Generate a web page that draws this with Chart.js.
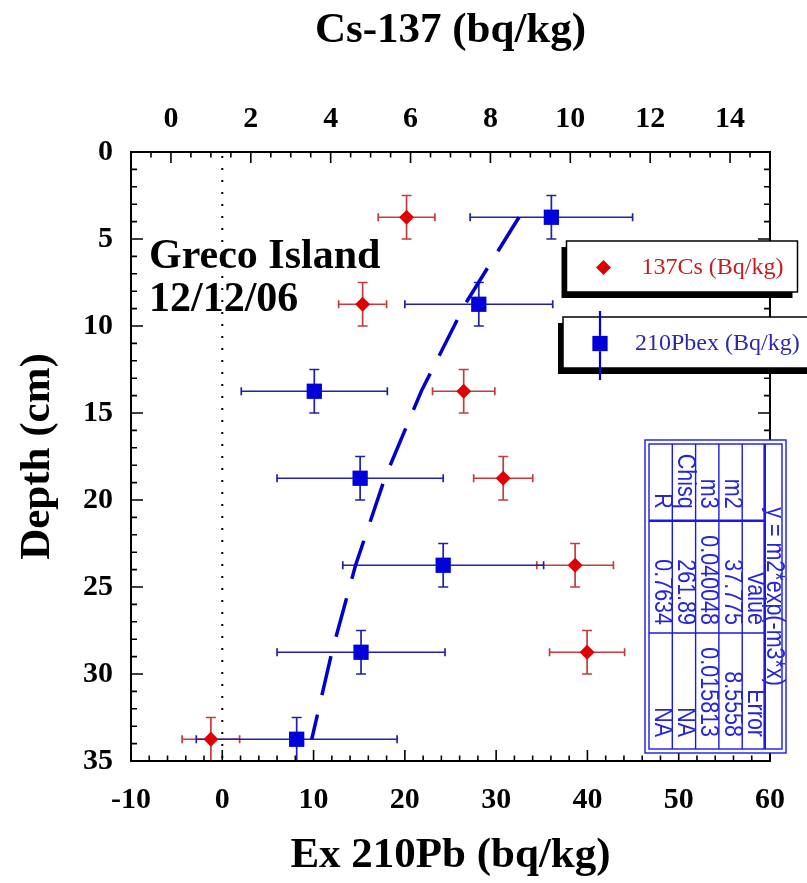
<!DOCTYPE html>
<html><head><meta charset="utf-8">
<script src="https://cdn.jsdelivr.net/npm/chart.js@4.4.1/dist/chart.umd.min.js"></script>
<style>html,body{margin:0;padding:0;background:#fff;}#wrap{width:807px;height:883px;}</style>
</head><body><div id="wrap"><canvas id="c" width="807" height="883"></canvas></div>
<script>
// ---- data ----
const depthCm   = [3.75, 8.75, 13.75, 18.75, 23.75, 28.75, 33.75];
const depthErr  = [1.25, 1.25, 1.25, 1.25, 1.25, 1.25, 1.25];
const cs137     = [5.9, 4.8, 7.33, 8.32, 10.12, 10.42, 1.0];
const cs137Err  = [0.71, 0.6, 0.78, 0.74, 0.96, 0.94, 0.72];
const pb210     = [36.05, 28.1, 10.08, 15.1, 24.2, 15.2, 8.15];
const pb210Err  = [8.9, 8.1, 8.0, 9.1, 11.0, 9.2, 11.0];
const fitDepth  = [3.75, 8.75, 13.75, 18.75, 23.75, 28.75, 33.75];
const fitPb     = [32.5, 26.6, 21.8, 17.8, 14.6, 12.0, 9.8];
const pbTicks    = [-10, 0, 10, 20, 30, 40, 50, 60];
const csTicks    = [0, 2, 4, 6, 8, 10, 12, 14];
const depthTicks = [0, 5, 10, 15, 20, 25, 30, 35];
const fitEquation = "y = m2*exp(-m3*x)";
const fitHeader = ["", "Value", "Error"];
const fitRows = [["m2", "37.775", "8.5558"], ["m3", "0.040048", "0.015813"], ["Chisq", "261.89", "NA"], ["R", "0.7634", "NA"]];
const siteLines = ["Greco Island", "12/12/06"];

const SERIF = "'Liberation Serif', 'Times New Roman', serif";
const SANS = "'Liberation Sans', Arial, sans-serif";

const errorBars = {
  id: 'errorBars',
  beforeDatasetsDraw(chart) {
    const ctx = chart.ctx, a = chart.chartArea, ys = chart.scales.y;
    const x0 = chart.scales.x.getPixelForValue(0);
    ctx.save();
    ctx.strokeStyle = '#000'; ctx.lineWidth = 2; ctx.setLineDash([2, 10]);
    ctx.beginPath(); ctx.moveTo(x0, a.top + 4); ctx.lineTo(x0, a.bottom); ctx.stroke();
    ctx.restore();
    chart.data.datasets.forEach(ds => {
      if (!ds.xErr) return;
      const xs = chart.scales[ds.xAxisID];
      ctx.save(); ctx.strokeStyle = ds.errColor; ctx.lineWidth = 1.7;
      ds.data.forEach((p, i) => {
        const px = xs.getPixelForValue(p.x), py = ys.getPixelForValue(p.y);
        const xl = xs.getPixelForValue(p.x - ds.xErr[i]), xr = xs.getPixelForValue(p.x + ds.xErr[i]);
        const yt = ys.getPixelForValue(p.y - ds.yErr[i]), yb = ys.getPixelForValue(p.y + ds.yErr[i]);
        ctx.beginPath();
        ctx.moveTo(xl, py); ctx.lineTo(xr, py);
        ctx.moveTo(xl, py - 4); ctx.lineTo(xl, py + 4);
        ctx.moveTo(xr, py - 4); ctx.lineTo(xr, py + 4);
        ctx.moveTo(px, yt); ctx.lineTo(px, yb);
        ctx.moveTo(px - 5, yt); ctx.lineTo(px + 5, yt);
        ctx.moveTo(px - 5, yb); ctx.lineTo(px + 5, yb);
        ctx.stroke();
      });
      ctx.restore();
    });
  }
};

function isMult(v, step) { return Math.abs(v / step - Math.round(v / step)) < 1e-6; }

const frameTicks = {
  id: 'frameTicks',
  afterDraw(chart) {
    const ctx = chart.ctx, a = chart.chartArea, s = chart.scales;
    ctx.save();
    ctx.strokeStyle = '#000'; ctx.lineWidth = 2;
    ctx.strokeRect(a.left, a.top, a.right - a.left, a.bottom - a.top);
    ctx.lineWidth = 1.6;
    ctx.beginPath();
    for (let v = s.x.min; v <= s.x.max + 1e-9; v += 2) {
      const p = s.x.getPixelForValue(v), L = isMult(v, 10) ? 11 : 5.5;
      ctx.moveTo(p, a.bottom); ctx.lineTo(p, a.bottom - L);
    }
    for (let k = 0; s.x2.min + k * 0.5 <= s.x2.max + 1e-9; k++) {
      const v = s.x2.min + k * 0.5;
      const p = s.x2.getPixelForValue(v), L = isMult(v, 2) ? 11 : 5.5;
      ctx.moveTo(p, a.top); ctx.lineTo(p, a.top + L);
    }
    for (let v = s.y.min; v <= s.y.max + 1e-9; v += 1) {
      const p = s.y.getPixelForValue(v), L = isMult(v, 5) ? 12 : 6;
      ctx.moveTo(a.left, p); ctx.lineTo(a.left + L, p);
      ctx.moveTo(a.right, p); ctx.lineTo(a.right - L, p);
    }
    ctx.stroke();
    // site label
    ctx.fillStyle = '#000';
    ctx.font = 'bold 42px ' + SERIF;
    ctx.textAlign = 'left'; ctx.textBaseline = 'alphabetic';
    ctx.fillText(siteLines[0], a.left + 18, a.top + 116);
    ctx.fillText(siteLines[1], a.left + 18, a.top + 159);
    ctx.restore();
  }
};

const legendBoxes = {
  id: 'legendBoxes',
  afterDraw(chart) {
    const ctx = chart.ctx, a = chart.chartArea;
    const dsCs = chart.data.datasets[0], dsPb = chart.data.datasets[1];
    const boxes = [
      {x: a.right - 203.5, y: a.top + 89, w: 231, h: 51, ds: dsCs, tc: '#c41e1e'},
      {x: a.right - 207, y: a.top + 165, w: 260, h: 51, ds: dsPb, tc: '#2a2aa8'}
    ];
    boxes.forEach((b, i) => {
      ctx.save();
      ctx.fillStyle = '#000';
      ctx.fillRect(b.x - 5, b.y + 6, b.w, b.h);
      ctx.fillStyle = '#fff';
      ctx.fillRect(b.x, b.y, b.w, b.h);
      ctx.strokeStyle = '#000'; ctx.lineWidth = 1.5;
      ctx.strokeRect(b.x, b.y, b.w, b.h);
      const mx = b.x + 37, my = b.y + b.h / 2 + 1;
      if (i === 1) {
        ctx.strokeStyle = '#0000d8'; ctx.lineWidth = 2.2;
        ctx.beginPath(); ctx.moveTo(mx, b.y - 6); ctx.lineTo(mx, b.y + b.h + 12); ctx.stroke();
      }
      Chart.helpers.drawPoint(ctx, {pointStyle: b.ds.pointStyle, radius: i === 0 ? 7.5 : 10.8, rotation: 0, borderWidth: 0}, mx, my);
      ctx.fillStyle = b.ds.backgroundColor;
      ctx.fill();
      ctx.fillStyle = b.tc;
      ctx.font = '24px ' + SERIF;
      ctx.textAlign = 'left'; ctx.textBaseline = 'middle';
      ctx.fillText(b.ds.label, b.x + (i === 0 ? 75 : 72), my);
      ctx.restore();
    });
  }
};

const fitTable = {
  id: 'fitTable',
  afterDraw(chart) {
    const ctx = chart.ctx, a = chart.chartArea;
    const L = a.right - 125, T = a.top + 288, R = a.right + 16, B = a.bottom - 8;
    const iL = L + 4, iT = T + 4, iR = R - 4, iB = B - 4;
    const colW = 23.3;
    const rowX = k => iL + (3 - k) * colW;      // left edge of fit row k (0=m2..3=R)
    const hdrL = iL + 4 * colW, hdrR = hdrL + 22.5; // header column
    const y1 = iT + 76.7, y2 = iT + 189;
    ctx.save();
    ctx.fillStyle = '#fff'; ctx.fillRect(L, T, R - L, B - T);
    ctx.strokeStyle = '#1a1ae6'; ctx.lineWidth = 1.4;
    ctx.strokeRect(L, T, R - L, B - T);
    ctx.strokeRect(iL, iT, iR - iL, iB - iT);
    ctx.beginPath();
    for (let k = 1; k <= 4; k++) { const x = iL + k * colW; ctx.moveTo(x, iT); ctx.lineTo(x, iB); }
    ctx.moveTo(iL, y2); ctx.lineTo(hdrR, y2);
    ctx.stroke();
    ctx.lineWidth = 2.6;
    ctx.beginPath();
    ctx.moveTo(hdrR, iT); ctx.lineTo(hdrR, iB);
    ctx.moveTo(iL, y1); ctx.lineTo(hdrR, y1);
    ctx.stroke();
    ctx.fillStyle = '#2626d6';
    ctx.font = '25px ' + SANS;
    const put = (txt, cx, y, align) => {
      ctx.save(); ctx.translate(cx, y); ctx.rotate(Math.PI / 2); ctx.scale(0.86, 1);
      ctx.textAlign = align; ctx.textBaseline = 'middle'; ctx.fillText(txt, 0, 0); ctx.restore();
    };
    const ends = [y1 - 12, y2 - 8, iB - 12];
    fitRows.forEach((row, k) => {
      const cx = rowX(k) + colW / 2 + 1;
      row.forEach((t, j) => put(t, cx, ends[j], 'right'));
    });
    fitHeader.forEach((t, j) => { if (t) put(t, (hdrL + hdrR) / 2 + 1, ends[j], 'right'); });
    put(fitEquation, (hdrR + iR) / 2 + 1, (iT + iB) / 2, 'center');
    ctx.restore();
  }
};

const tickFont = {family: SERIF, weight: 'bold', size: 30, lineHeight: 1.2};
const titleFont = {family: SERIF, weight: 'bold', size: 43, lineHeight: 1.2};

new Chart(document.getElementById('c'), {
  type: 'scatter',
  data: {
    datasets: [
      {label: '137Cs (Bq/kg)', xAxisID: 'x2', yAxisID: 'y',
       data: depthCm.map((d, i) => ({x: cs137[i], y: d})),
       xErr: cs137Err, yErr: depthErr, errColor: '#c43c3c',
       pointStyle: 'rectRot', pointRadius: 7.5, backgroundColor: '#e00000', borderColor: '#e00000', borderWidth: 0, order: 1},
      {label: '210Pbex (Bq/kg)', xAxisID: 'x', yAxisID: 'y',
       data: depthCm.map((d, i) => ({x: pb210[i], y: d})),
       xErr: pb210Err, yErr: depthErr, errColor: '#2020a8',
       pointStyle: 'rect', pointRadius: 10.8, backgroundColor: '#0000d8', borderColor: '#0000d8', borderWidth: 0, order: 0},
      {label: 'fit', type: 'line', xAxisID: 'x', yAxisID: 'y',
       data: fitDepth.map((d, i) => ({x: fitPb[i], y: d})),
       borderColor: '#0000c8', borderWidth: 3.5, borderDash: [40, 20], pointRadius: 0, fill: false, showLine: true, tension: 0, order: 2}
    ]
  },
  options: {
    responsive: false, animation: false, devicePixelRatio: 1,
    layout: {padding: {left: 0, right: 37, top: 0, bottom: 0}},
    plugins: {legend: {display: false}, tooltip: {enabled: false}},
    scales: {
      x: {type: 'linear', axis: 'x', position: 'bottom', min: -10, max: 60,
          afterBuildTicks: s => { s.ticks = pbTicks.map(v => ({value: v})); },
          afterFit: s => { s.height = 122; },
          grid: {display: false, drawTicks: false}, border: {display: false},
          ticks: {color: '#000', font: tickFont, padding: 21, maxRotation: 0, autoSkip: false},
          title: {display: true, text: 'Ex 210Pb (bq/kg)', color: '#000', font: titleFont, padding: {top: 0, bottom: 1}}},
      x2: {type: 'linear', axis: 'x', position: 'top', min: -1, max: 15,
          afterBuildTicks: s => { s.ticks = csTicks.map(v => ({value: v})); },
          afterFit: s => { s.height = 152; },
          grid: {display: false, drawTicks: false}, border: {display: false},
          ticks: {color: '#000', font: tickFont, padding: 15, maxRotation: 0, autoSkip: false},
          title: {display: true, text: 'Cs-137 (bq/kg)', color: '#000', font: titleFont, padding: {top: 5, bottom: 0}}},
      y: {type: 'linear', axis: 'y', position: 'left', reverse: true, min: 0, max: 35,
          afterBuildTicks: s => { s.ticks = depthTicks.map(v => ({value: v})); },
          afterFit: s => { s.width = 131; },
          grid: {display: false, drawTicks: false}, border: {display: false},
          ticks: {color: '#000', font: tickFont, padding: 18, autoSkip: false},
          title: {display: true, text: 'Depth (cm)', color: '#000', font: titleFont, padding: {top: 12, bottom: 0}}}
    }
  },
  plugins: [errorBars, frameTicks, legendBoxes, fitTable]
});
</script>
</body></html>
